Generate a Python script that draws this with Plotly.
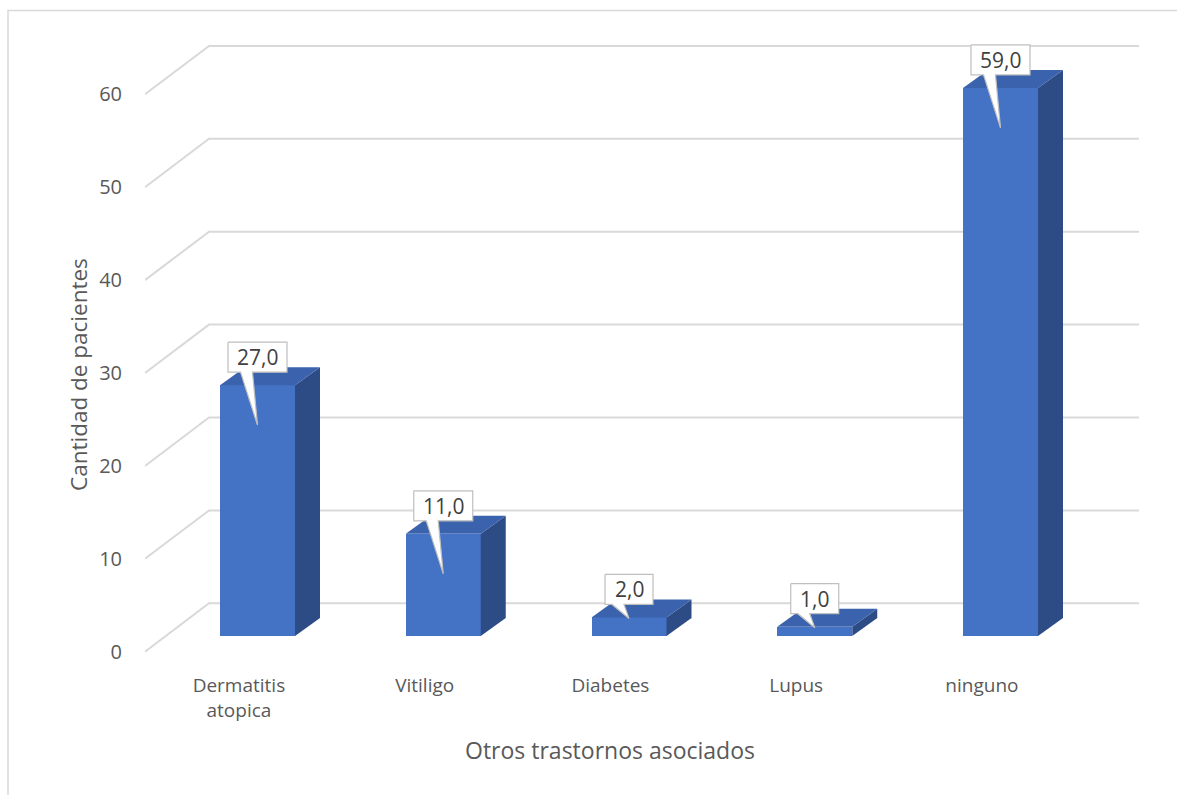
import plotly.graph_objects as go

# ---------------- data ----------------
categories = ["Dermatitis<br>atopica", "Vitiligo", "Diabetes", "Lupus", "ninguno"]
values = [27, 11, 2, 1, 59]
value_labels = ["27,0", "11,0", "2,0", "1,0", "59,0"]
y_ticks = [0, 10, 20, 30, 40, 50, 60]
x_title = "Otros trastornos asociados"
y_title = "Cantidad de pacientes"

# ---------------- geometry / style ----------------
W, H = 1177, 795
ML, MR, MT, MB = 145, 38, 40, 135
PX_X = 185.75          # pixels per category step
PX_Y = 9.29            # pixels per value unit
ZERO_PX = 636          # pixel row of value 0 on the bar-front plane
C0_PX = 257.5          # pixel column of first bar centre
plot_w = W - ML - MR
plot_h = H - MT - MB
x_range = [(ML - C0_PX) / PX_X, (W - MR - C0_PX) / PX_X]
y_range = [(ZERO_PX - (H - MB)) / PX_Y, (ZERO_PX - MT) / PX_Y]

DEPTH_DX = 64 / PX_X           # full depth vector (front plane -> back wall)
DEPTH_DY = 48.4 / PX_Y
FRONT_FRAC = 0.324             # bar front depth fraction
BAR_W = 75 / PX_X
SIDE_DX = 25 / PX_X
SIDE_DY = 18 / PX_Y
front_off = -FRONT_FRAC * DEPTH_DY
back_off = (1 - FRONT_FRAC) * DEPTH_DY

C_FRONT = "#4472C4"
C_TOP = "#3A62AD"
C_SIDE = "#2D4C86"
GRID = "#D9D9D9"
TXT = "#595959"
FONT = "Open Sans"

xs = list(range(len(values)))
fig = go.Figure()

# front faces
fig.add_trace(go.Bar(x=xs, y=values, width=BAR_W, marker=dict(color=C_FRONT, line=dict(width=0)),
                     hoverinfo="skip", showlegend=False))

# side and top faces
for i, v in zip(xs, values):
    r = i + BAR_W / 2
    l = i - BAR_W / 2
    fig.add_trace(go.Scatter(x=[r, r, r + SIDE_DX, r + SIDE_DX, r], y=[0, v, v + SIDE_DY, SIDE_DY, 0],
                             fill="toself", fillcolor=C_SIDE, line=dict(width=0), mode="lines",
                             hoverinfo="skip", showlegend=False))
    fig.add_trace(go.Scatter(x=[l, r, r + SIDE_DX, l + SIDE_DX, l], y=[v, v, v + SIDE_DY, v + SIDE_DY, v],
                             fill="toself", fillcolor=C_TOP, line=dict(width=0), mode="lines",
                             hoverinfo="skip", showlegend=False))

# callouts
shapes = []
annotations = []
for i, v, t in zip(xs, values, value_labels):
    top_px = ZERO_PX - v * PX_Y
    cy_px = top_px - 28
    hw = (11 * len(t) + 15) / 2
    hh = 15
    drop = 40 if v * PX_Y > 60 else 1
    pts_px = [(-hw, cy_px - hh), (hw, cy_px - hh), (hw, cy_px + hh), (-5, cy_px + hh),
              (0, top_px + drop), (-17, cy_px + hh), (-hw, cy_px + hh), (-hw, cy_px - hh)]
    px = [i + dx / PX_X for dx, _ in pts_px]
    py = [(ZERO_PX - yy) / PX_Y for _, yy in pts_px]
    fig.add_trace(go.Scatter(x=px, y=py, fill="toself", fillcolor="white",
                             line=dict(color="#BFBFBF", width=1.2), mode="lines",
                             hoverinfo="skip", showlegend=False))
    annotations.append(dict(x=i, y=(ZERO_PX - cy_px) / PX_Y, xref="x", yref="y", text=t,
                            xanchor="center", yanchor="middle",
                            showarrow=False, font=dict(family=FONT, size=21, color="#404040")))

# gridlines: front diagonal + back wall horizontal
for v in y_ticks:
    x_a = x_range[0]
    x_b = x_range[0] + DEPTH_DX
    x_c = x_range[1]
    path = f"M {x_a},{v + front_off} L {x_b},{v + back_off} L {x_c},{v + back_off}"
    shapes.append(dict(type="path", path=path, xref="x", yref="y", layer="below",
                       line=dict(color=GRID, width=2)))

# chart border
shapes.append(dict(type="rect", xref="paper", yref="paper",
                   x0=(8 - ML) / plot_w, x1=(W + 5 - ML) / plot_w,
                   y0=((H - MB) - (H + 5)) / plot_h, y1=((H - MB) - 10.5) / plot_h,
                   line=dict(color=GRID, width=1.5), layer="below"))

# axis titles
annotations.append(dict(x=(610 - ML) / plot_w, y=((H - MB) - 750) / plot_h, xref="paper", yref="paper",
                        xanchor="center", yanchor="middle",
                        text=x_title, showarrow=False, font=dict(family=FONT, size=23, color=TXT)))
annotations.append(dict(x=(78 - ML) / plot_w, y=((H - MB) - 375) / plot_h, xref="paper", yref="paper",
                        xanchor="center", yanchor="middle",
                        text=y_title, textangle=-90, showarrow=False,
                        font=dict(family=FONT, size=22.5, color=TXT)))

fig.update_layout(
    width=W, height=H,
    margin=dict(l=ML, r=MR, t=MT, b=MB),
    paper_bgcolor="white", plot_bgcolor="white",
    shapes=shapes, annotations=annotations,
    xaxis=dict(range=x_range, showgrid=False, zeroline=False, showline=False,
               tickvals=[i - 0.1 for i in xs], ticktext=categories, ticks="",
               ticklabelstandoff=12,
               tickfont=dict(family=FONT, size=19, color=TXT), fixedrange=True),
    yaxis=dict(range=y_range, showgrid=False, zeroline=False, showline=False,
               tickvals=[v + front_off for v in y_ticks], ticktext=[str(v) for v in y_ticks],
               ticks="", ticklabelstandoff=22,
               tickfont=dict(family=FONT, size=20, color=TXT), fixedrange=True),
    bargap=0,
)

fig.write_html("out.html")
